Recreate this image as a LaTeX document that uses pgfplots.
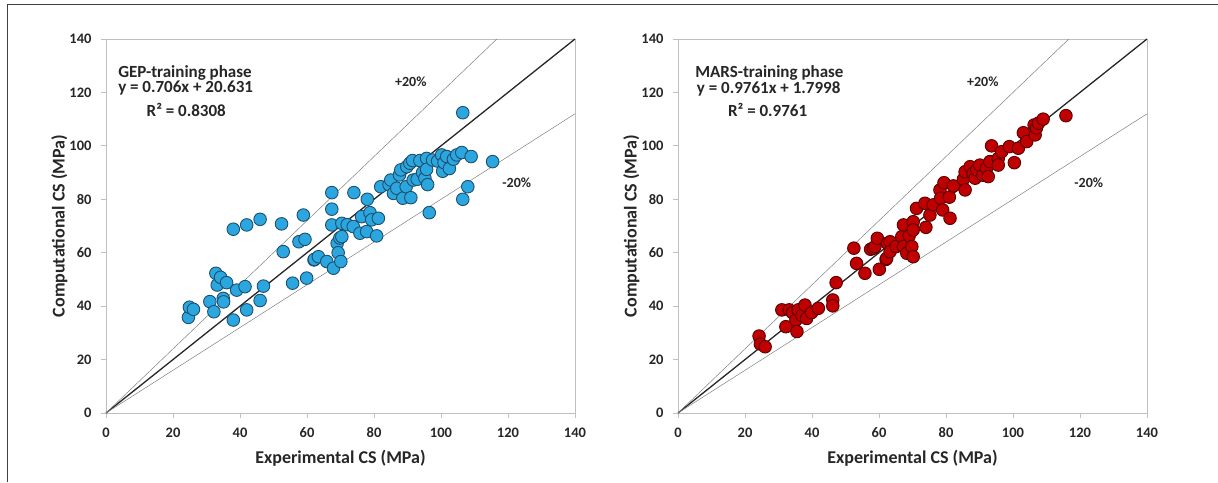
\documentclass[border=0pt]{standalone}
\usepackage{fontspec}
\setmainfont{Carlito}
\usepackage{pgfplots}
\pgfplotsset{compat=1.18}

\definecolor{gepblue}{HTML}{2BA6DF}
\definecolor{gepedge}{HTML}{1D4F70}
\definecolor{marsred}{HTML}{C00000}
\definecolor{marsedge}{HTML}{5A0000}
\definecolor{axgray}{HTML}{BFBFBF}
\definecolor{txt}{HTML}{262626}

\pgfplotsset{
  csplot/.style={
    scale only axis, width=469pt, height=374pt,
    xmin=0, xmax=140, ymin=0, ymax=140,
    xtick={0,20,...,140}, ytick={0,20,...,140},
    axis line style={axgray, line width=0.8pt},
    tick style={axgray, line width=0.8pt},
    tick align=outside, major tick length=5pt,
    xtick pos=bottom, ytick pos=left,
    ticklabel style={font=\fontsize{14.5}{16}\selectfont\bfseries, text=txt},
    xticklabel style={yshift=-6pt},
    yticklabel style={xshift=-6pt},
    /pgf/number format/assume math mode=true,
    xlabel={Experimental CS (MPa)}, ylabel={Computational CS (MPa)},
    label style={font=\fontsize{18}{20}\selectfont\bfseries, text=txt},
    xlabel style={yshift=-6pt},
    ylabel style={yshift=-5pt},
    clip=false,
  },
}
\tikzset{
  refline/.style={black!85, line width=1.3pt},
  pmline/.style={gray, line width=0.5pt},
  note/.style={font=\fontsize{17}{19}\selectfont\bfseries, text=txt, anchor=west, inner sep=0pt},
  pct/.style={font=\fontsize{14}{16}\selectfont\bfseries, text=txt, inner sep=0pt},
}

\pgfplotstableread{
x y
24.6 35.8
24.9 39.6
26.1 38.8
31.0 41.7
32.2 37.9
32.8 52.3
33.2 47.9
34.2 50.8
35.0 42.9
35.1 41.6
36.0 48.8
38.0 34.8
38.0 68.8
39.0 46.0
41.5 47.3
42.0 70.4
42.0 38.6
46.0 72.5
46.0 42.1
47.0 47.5
52.4 70.8
52.9 60.4
55.7 48.6
57.6 64.1
58.9 74.1
59.4 65.0
59.9 50.5
62.1 57.3
62.2 57.5
63.4 58.5
65.9 56.7
67.4 82.5
67.4 76.3
67.4 70.4
67.9 54.2
69.0 63.5
69.3 60.0
69.8 65.5
70.1 56.7
70.4 71.0
70.4 66.0
72.0 70.5
73.8 69.8
74.0 82.5
75.8 67.3
76.3 73.5
77.8 67.9
78.0 80.0
78.8 75.0
79.3 72.3
80.8 66.3
81.3 72.9
82.0 84.7
84.5 85.5
85.0 87.2
85.8 82.2
86.8 84.1
87.6 89.1
88.0 91.0
88.6 80.4
89.6 84.7
89.8 92.2
90.7 93.5
91.0 80.6
91.5 94.5
91.7 87.2
92.9 87.5
93.7 94.5
94.5 90.0
95.2 87.9
95.7 95.3
95.7 91.2
96.0 85.5
96.5 75.0
97.5 94.7
99.0 94.3
100.2 96.6
100.5 90.5
100.9 93.7
101.7 96.0
102.5 91.5
103.7 95.0
104.7 96.6
106.2 97.5
106.5 112.4
106.5 80.0
108.0 84.7
109.0 96.0
115.4 94.1
}\geptable

\pgfplotstableread{
x y
24.2 28.8
24.6 25.8
26.0 24.8
31.0 38.6
32.2 32.3
33.2 38.6
34.2 37.5
35.2 34.8
35.5 30.5
35.9 38.6
37.0 36.5
37.9 40.4
38.4 35.4
39.9 37.6
41.9 39.2
46.2 42.3
46.2 40.1
47.2 48.8
52.5 61.7
53.3 56.0
55.8 52.3
57.5 61.3
58.3 61.7
58.8 62.3
59.5 65.4
60.1 53.8
62.1 57.5
62.3 57.9
62.5 63.5
63.3 64.1
63.3 60.4
65.1 62.3
66.8 66.0
67.3 70.4
67.3 62.3
68.3 59.8
69.0 66.3
69.8 62.3
70.2 71.6
70.2 68.5
70.2 58.5
71.2 76.6
73.7 78.5
74.0 69.5
75.2 74.1
76.2 77.9
78.2 83.5
78.4 80.4
79.0 76.0
79.4 86.2
81.0 80.8
81.2 72.9
82.2 85.0
85.2 87.5
85.7 90.3
85.7 83.5
87.2 92.2
88.1 89.7
88.7 87.9
89.2 91.0
90.1 92.8
91.0 89.0
92.1 91.6
92.6 88.5
93.1 94.1
93.6 100.0
95.6 95.3
95.6 92.8
96.6 97.8
98.9 99.7
100.4 93.7
101.6 99.1
103.1 104.9
104.1 101.6
106.3 107.8
106.6 104.1
107.0 106.7
107.6 108.5
109.0 110.0
115.8 111.3
}\marstable

\begin{document}
\begin{tikzpicture}
\useasboundingbox (0,0) rectangle (1218pt,482pt);
\draw[black!75, line width=1pt] (7pt,0pt) -- (7pt,477pt) -- (1218pt,477pt);

\begin{axis}[csplot, at={(106pt,69pt)}, anchor=south west]
  \draw[axgray, line width=0.8pt] (rel axis cs:0,0) rectangle (rel axis cs:1,1);
  \addplot[only marks, mark=*, mark size=6.3pt,
    mark options={fill=gepblue, draw=gepedge, line width=0.9pt}] table {\geptable};
  \addplot[refline] coordinates {(0,0) (140,140)};
  \addplot[pmline] coordinates {(0,0) (116.67,140)};
  \addplot[pmline] coordinates {(0,0) (140,112)};
  \node[note] at (axis cs:3.6,127.2) {GEP-training phase};
  \node[note] at (axis cs:3.6,121.6) {y = 0.706x + 20.631};
  \node[note] at (axis cs:12.1,113.4) {R² = 0.8308};
  \node[pct] at (axis cs:91,124) {+20\%};
  \node[pct] at (axis cs:122.6,86.2) {-20\%};
\end{axis}

\begin{axis}[csplot, at={(678pt,69pt)}, anchor=south west]
  \draw[axgray, line width=0.8pt] (rel axis cs:0,0) rectangle (rel axis cs:1,1);
  \addplot[only marks, mark=*, mark size=6.3pt,
    mark options={fill=marsred, draw=marsedge, line width=0.9pt}] table {\marstable};
  \addplot[refline] coordinates {(0,0) (140,140)};
  \addplot[pmline] coordinates {(0,0) (116.67,140)};
  \addplot[pmline] coordinates {(0,0) (140,112)};
  \node[note] at (axis cs:5.1,127.2) {MARS-training phase};
  \node[note] at (axis cs:5.6,121.2) {y = 0.9761x + 1.7998};
  \node[note] at (axis cs:14.9,113.4) {R² = 0.9761};
  \node[pct] at (axis cs:91,124) {+20\%};
  \node[pct] at (axis cs:122.6,86.2) {-20\%};
\end{axis}
\end{tikzpicture}
\end{document}
